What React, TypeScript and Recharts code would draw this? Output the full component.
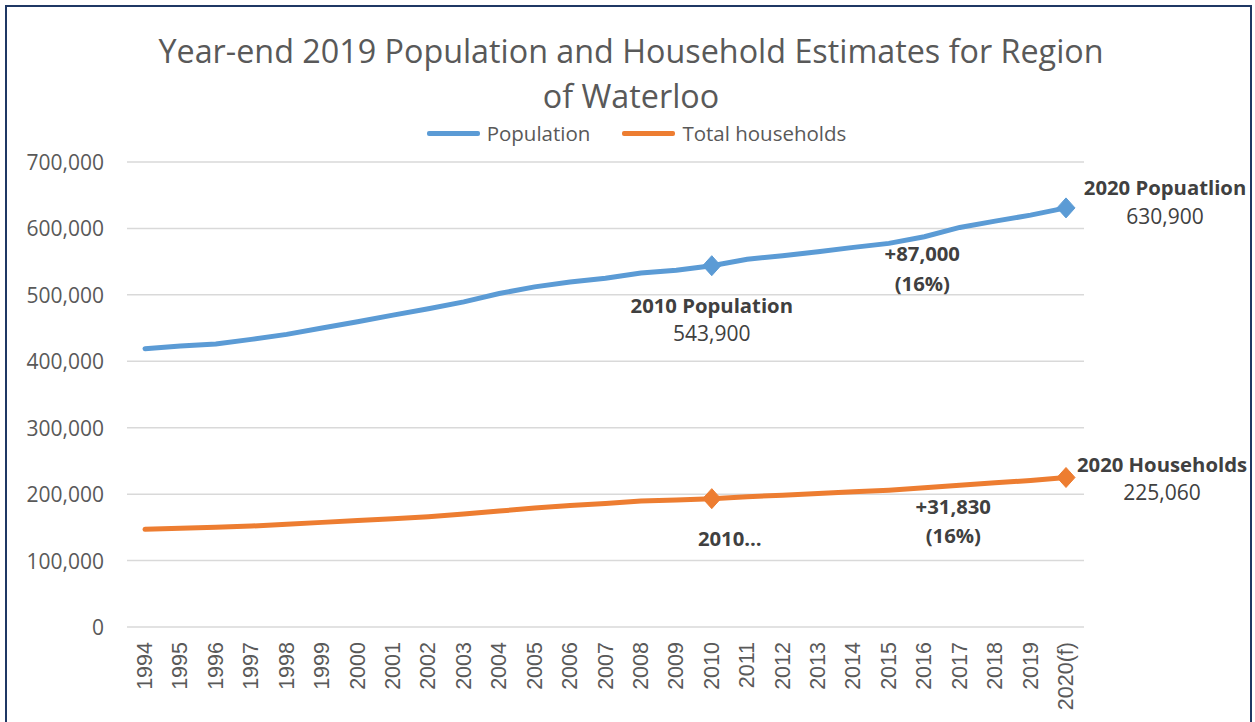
import { LineChart, Line, XAxis, YAxis, CartesianGrid, Legend, LabelList } from 'recharts';

const years = [
  '1994', '1995', '1996', '1997', '1998', '1999', '2000', '2001', '2002',
  '2003', '2004', '2005', '2006', '2007', '2008', '2009', '2010', '2011',
  '2012', '2013', '2014', '2015', '2016', '2017', '2018', '2019', '2020(f)',
];

const population = [
  419000, 423000, 426000, 433000, 440500, 450000, 459500, 469500, 479000,
  489500, 502000, 512000, 519500, 525000, 533000, 537000, 543900, 553500,
  559000, 565000, 571500, 577500, 587500, 601500, 611000, 620000, 630900,
];

const households = [
  147000, 148500, 150000, 152000, 154500, 157500, 160500, 163000, 166000,
  170000, 174500, 179000, 183000, 186000, 189500, 191000, 193230, 196000,
  198500, 201000, 203500, 206000, 209500, 213500, 217000, 220500, 225060,
];

const yTicks = [0, 100000, 200000, 300000, 400000, 500000, 600000, 700000];

const markedYears = ['2010', '2020(f)'];

// annotation text, keyed by the year the note hangs off
const populationNotes: Record<string, string[]> = {
  '2010': ['2010 Population', '543,900'],
  '2016': ['+87,000', '(16%)'],
  '2020(f)': ['2020 Popuatlion', '630,900'],
};
const householdNotes: Record<string, string[]> = {
  '2010': ['2010…'],
  '2016': ['+31,830', '(16%)'],
  '2020(f)': ['2020 Households', '225,060'],
};

type NoteLayout = { dx: number; dy: number[]; bold: boolean[] };
const populationLayout: Record<string, NoteLayout> = {
  '2010': { dx: 0, dy: [39, 67], bold: [true, false] },
  '2016': { dx: -2, dy: [16, 46], bold: [true, true] },
  '2020(f)': { dx: 99, dy: [-21, 8], bold: [true, false] },
};
const householdLayout: Record<string, NoteLayout> = {
  '2010': { dx: 18, dy: [39], bold: [true] },
  '2016': { dx: 29, dy: [18, 47], bold: [true, true] },
  '2020(f)': { dx: 96, dy: [-13, 15], bold: [true, false] },
};

const data = years.map((year, i) => ({
  year,
  population: population[i],
  households: households[i],
}));

const BLUE = '#5B9BD5';
const ORANGE = '#ED7D31';
const FONT = '"Open Sans", sans-serif';
const GRAY = '#595959';

const diamond = (color: string) => (props: any) => {
  const { cx, cy, index, payload } = props;
  if (!markedYears.includes(payload?.year)) return <g key={`d-${index}`} />;
  return (
    <path
      key={`d-${index}`}
      d={`M${cx},${cy - 10} L${cx + 9},${cy} L${cx},${cy + 10} L${cx - 9},${cy} Z`}
      fill={color}
      stroke={color}
    />
  );
};

const noteRenderer = (notes: Record<string, string[]>, layout: Record<string, NoteLayout>) => (props: any) => {
  const year = props.value as string;
  const lines = notes[year];
  if (!lines) return null;
  const px = props.x ?? props.viewBox?.x;
  const py = props.y ?? props.viewBox?.y;
  const pos = layout[year];
  return (
    <g key={`n-${year}`}>
      {lines.map((t, i) => (
        <text
          key={i}
          x={px + pos.dx}
          y={py + pos.dy[i]}
          textAnchor="middle"
          dominantBaseline="central"
          fontFamily={FONT}
          fontSize={pos.bold[i] ? 20.3 : 21}
          fontWeight={pos.bold[i] ? 700 : 400}
          fill="#404040"
        >
          {t}
        </text>
      ))}
    </g>
  );
};

const YTick = (props: any) => {
  const { x, y, payload } = props;
  return (
    <text x={x} y={y} textAnchor="end" dominantBaseline="central" fontFamily={FONT} fontSize={21} fill={GRAY}>
      {Number(payload.value).toLocaleString('en-US')}
    </text>
  );
};

const XTick = (props: any) => {
  const { x, y, payload } = props;
  return (
    <text
      x={x}
      y={y}
      transform={`rotate(-90, ${x}, ${y})`}
      textAnchor="end"
      dominantBaseline="central"
      fontFamily='"Liberation Sans", Arial, sans-serif'
      fontSize={21.5}
      fill={GRAY}
    >
      {payload.value}
    </text>
  );
};

const legendItems = [
  { label: 'Population', color: BLUE },
  { label: 'Total households', color: ORANGE },
];

const LegendContent = () => (
  <div style={{ display: 'flex', justifyContent: 'center', paddingLeft: 18, fontFamily: FONT, fontSize: 20.5, color: GRAY }}>
    {legendItems.map((item, i) => (
      <div key={item.label} style={{ display: 'flex', alignItems: 'center', marginLeft: i ? 32 : 0 }}>
        <span style={{ display: 'inline-block', width: 53, height: 5, background: item.color, borderRadius: 2, marginRight: 7 }} />
        <span>{item.label}</span>
      </div>
    ))}
  </div>
);

export default function App() {
  return (
    <div style={{ position: 'fixed', left: 0, top: 0, width: 1255, height: 722, background: '#fff', overflow: 'hidden' }}>
      <div
        style={{
          position: 'absolute', left: 5, top: 5, width: 1247, height: 740,
          border: '2px solid #1F3864', boxSizing: 'border-box',
        }}
      />
      <div
        style={{
          position: 'absolute', left: 0, top: 28, width: 1262, textAlign: 'center',
          fontFamily: FONT, fontSize: 32.3, lineHeight: '45px', color: GRAY,
        }}
      >
        Year-end 2019 Population and Household Estimates for Region
        <br />
        of Waterloo
      </div>
      <div style={{ position: 'absolute', left: 0, top: 0 }}>
        <LineChart width={1255} height={722} data={data} margin={{ top: 162, right: 171, bottom: 0, left: 0 }}>
          <CartesianGrid vertical={false} stroke="#D9D9D9" strokeWidth={1.5} />
          <XAxis
            dataKey="year"
            interval={0}
            height={95}
            padding={{ left: 18, right: 18 }}
            axisLine={false}
            tickLine={false}
            tickSize={0}
            tickMargin={15}
            tick={<XTick />}
          />
          <YAxis
            width={127}
            domain={[0, 700000]}
            ticks={yTicks}
            axisLine={false}
            tickLine={false}
            tickSize={0}
            tickMargin={23}
            tick={<YTick />}
          />
          <Legend
            verticalAlign="middle"
            align="center"
            content={<LegendContent />}
            wrapperStyle={{ top: 119, left: 0, width: 1255 }}
          />
          <Line
            type="linear"
            dataKey="population"
            name="Population"
            stroke={BLUE}
            strokeWidth={5}
            strokeLinecap="round"
            dot={diamond(BLUE)}
            activeDot={false}
            isAnimationActive={false}
          >
            <LabelList dataKey="year" content={noteRenderer(populationNotes, populationLayout)} />
          </Line>
          <Line
            type="linear"
            dataKey="households"
            name="Total households"
            stroke={ORANGE}
            strokeWidth={5}
            strokeLinecap="round"
            dot={diamond(ORANGE)}
            activeDot={false}
            isAnimationActive={false}
          >
            <LabelList dataKey="year" content={noteRenderer(householdNotes, householdLayout)} />
          </Line>
        </LineChart>
      </div>
    </div>
  );
}
